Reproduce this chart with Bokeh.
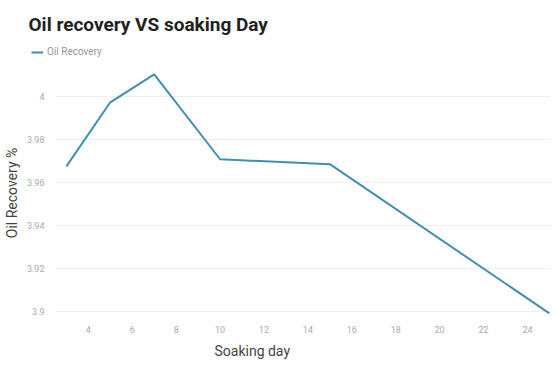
from bokeh.plotting import figure
from bokeh.layouts import column
from bokeh.models import (Range1d, FixedTicker, CustomJSTickFormatter, Legend,
                          LegendItem, Title)
from bokeh.embed import file_html
from bokeh.resources import INLINE

# Oil recovery (%) measured after each soaking period (days)
soaking_days = [3, 5, 7, 10, 15, 25]
oil_recovery = [3.9674, 3.9972, 4.0102, 3.9707, 3.9684, 3.899]

x_ticks = [4, 6, 8, 10, 12, 14, 16, 18, 20, 22, 24]
y_ticks = [3.9, 3.92, 3.94, 3.96, 3.98, 4.0]

LINE_COLOR = "#3f8fb5"
FONT = "Roboto"
WIDTH = 555
HEAD_H = 64
MAIN_H = 301

# ---- header strip: chart title and series key ----
head = figure(width=WIDTH, height=HEAD_H, output_backend="svg",
              toolbar_location=None, x_axis_location=None, y_axis_location=None,
              x_range=Range1d(100, 101), y_range=Range1d(100, 101),
              min_border_left=0, min_border_right=0, min_border_top=37,
              min_border_bottom=0)
head.frame_align = False
head.grid.visible = False
head.outline_line_color = None
head.title.text = "Oil recovery VS soaking Day"
head.title.text_font = FONT
head.title.text_font_style = "bold"
head.title.text_font_size = "19px"
head.title.text_color = "#222222"
head.title.offset = 28
head.title.standoff = 4

# series drawn outside the header's view; it only supplies the legend key
key = head.line(soaking_days, oil_recovery, line_color=LINE_COLOR, line_width=2)
legend = Legend(items=[LegendItem(label="Oil Recovery", renderers=[key])],
                location=(31, 7), orientation="horizontal",
                label_text_font=FONT, label_text_font_size="10px",
                label_text_color="#999999", glyph_width=12, glyph_height=8,
                border_line_color=None, background_fill_alpha=0,
                padding=0, margin=0, label_standoff=4)
head.add_layout(legend, "center")

# ---- main line chart ----
p = figure(width=WIDTH, height=MAIN_H, output_backend="svg", toolbar_location=None,
           x_range=Range1d(2.55, 25.05), y_range=Range1d(3.898, 4.012),
           min_border_left=55, min_border_right=5, min_border_top=70 - HEAD_H,
           min_border_bottom=50)
p.frame_align = False

p.line(soaking_days, oil_recovery, line_color=LINE_COLOR, line_width=2)

p.xaxis.ticker = FixedTicker(ticks=x_ticks)
p.yaxis.ticker = FixedTicker(ticks=y_ticks)
p.yaxis.formatter = CustomJSTickFormatter(code="return String(Number(tick.toFixed(2)));")
for ax in (p.xaxis[0], p.yaxis[0]):
    ax.axis_line_color = None
    ax.major_tick_line_color = None
    ax.minor_tick_line_color = None
    ax.major_label_text_font = FONT
    ax.major_label_text_font_size = "9px"
    ax.major_label_text_color = "#aaaaaa"

p.yaxis.axis_label = "Oil Recovery %"
p.yaxis.axis_label_text_font = FONT
p.yaxis.axis_label_text_font_style = "normal"
p.yaxis.axis_label_text_font_size = "14px"
p.yaxis.axis_label_text_color = "#444444"
p.yaxis.major_label_standoff = 6
p.yaxis.axis_label_standoff = 4

p.xaxis.major_label_standoff = 4

p.add_layout(Title(text="Soaking day", align="left", offset=158,
                   text_font=FONT, text_font_style="normal",
                   text_font_size="14px", text_color="#444444"), "below")

p.xgrid.grid_line_color = None
p.ygrid.grid_line_color = "#eeeeee"
p.outline_line_color = None

layout = column(head, p, spacing=0)
open("out.html", "w").write(file_html(layout, INLINE))
